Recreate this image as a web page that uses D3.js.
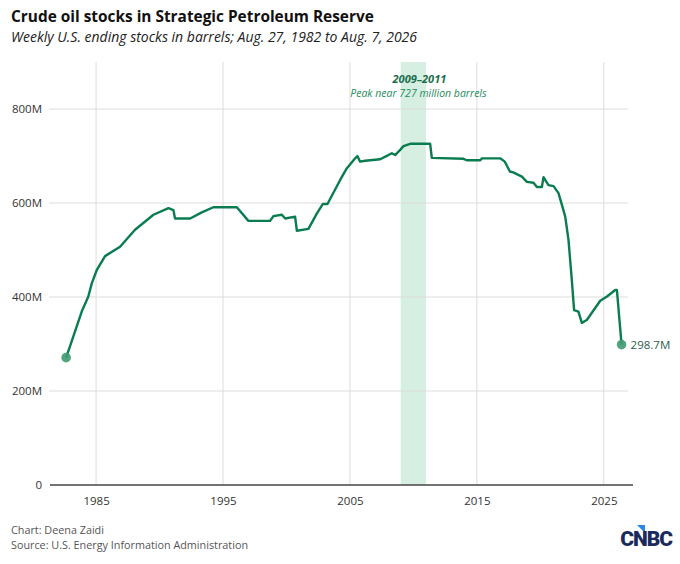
<!DOCTYPE html>
<html>
<head>
<meta charset="utf-8">
<script src="https://cdn.jsdelivr.net/npm/d3@7"></script>
<style>
  html, body { margin: 0; padding: 0; background: #fff; }
  svg { display: block; font-family: "Open Sans", sans-serif; }
</style>
</head>
<body>
<div id="chart"></div>
<script>
// ─── data: SPR ending stocks, million barrels, by decimal year ───────────────
const years = [1982.64, 1983.21, 1983.87, 1984.39, 1984.66, 1985.05, 1985.71, 1986.89,
  1988.07, 1989.52, 1990.70, 1991.09, 1991.22, 1992.41, 1993.33, 1994.24, 1996.09,
  1997.00, 1998.71, 1998.97, 1999.63, 1999.90, 2000.68, 2000.82, 2001.73, 2002.40,
  2002.87, 2003.23, 2004.23, 2004.76, 2005.41, 2005.59, 2005.80, 2006.20, 2007.38,
  2008.03, 2008.30, 2008.56, 2008.96, 2009.22, 2009.74, 2011.32, 2011.45, 2013.94,
  2014.20, 2015.27, 2015.40, 2016.83, 2017.20, 2017.60, 2017.86, 2018.55, 2018.94,
  2019.46, 2019.73, 2020.12, 2020.25, 2020.64, 2021.04, 2021.43, 2021.70, 2021.96,
  2022.22, 2022.48, 2022.66, 2023.00, 2023.27, 2023.66, 2024.72, 2025.25, 2025.90,
  2026.03, 2026.40];
const stocks = [271, 316, 369, 401, 429, 457, 487, 507,
  543, 575, 589, 585, 567, 567, 580, 591, 591,
  562, 562, 572, 575, 567, 571, 541, 545, 578,
  598, 598, 649, 674, 695, 700, 688, 690, 693,
  702, 706, 702, 713, 721, 726, 726, 696, 694,
  691, 691, 695, 695, 688, 667, 665, 656, 645,
  643, 634, 634, 655, 638, 636, 621, 596, 571,
  521, 436, 372, 369, 345, 351, 392, 401, 415,
  415, 298.7];
const xTicks = [1985, 1995, 2005, 2015, 2025];
const yTicks = [0, 200, 400, 600, 800];
const band = [2009, 2011];

const COLOR_LINE = "#0a7d50";
const COLOR_BAND = "#d6efe2";
const COLOR_GRID = "#dcdcdc";
const COLOR_TEXT = "#333";

const W = 680, H = 564;
const m = { left: 50, right: 633, top: 62, bottom: 485 };

const svg = d3.select("#chart").append("svg")
    .attr("width", W).attr("height", H);

const x = d3.scaleLinear().domain([1981.37, 2027.3]).range([m.left, m.right]);
const y = d3.scaleLinear().domain([0, 900]).range([m.bottom, m.top]);

// title block
svg.append("text").attr("x", 11).attr("y", 22)
    .attr("font-size", 15.4).attr("font-weight", 700).attr("fill", "#111")
    .text("Crude oil stocks in Strategic Petroleum Reserve");
svg.append("text").attr("x", 11).attr("y", 42)
    .attr("font-size", 14).attr("font-style", "italic").attr("fill", "#222")
    .text("Weekly U.S. ending stocks in barrels; Aug. 27, 1982 to Aug. 7, 2026");

// shaded period
svg.append("rect")
    .attr("x", x(band[0])).attr("width", x(band[1]) - x(band[0]))
    .attr("y", m.top).attr("height", m.bottom - m.top)
    .attr("fill", COLOR_BAND);

// grid
svg.append("g").selectAll("line").data(xTicks).join("line")
    .attr("x1", d => x(d)).attr("x2", d => x(d))
    .attr("y1", m.top).attr("y2", m.bottom)
    .attr("stroke", COLOR_GRID);
svg.append("g").selectAll("line").data(yTicks.filter(d => d > 0)).join("line")
    .attr("x1", m.left - 1).attr("x2", 628)
    .attr("y1", d => y(d)).attr("y2", d => y(d))
    .attr("stroke", COLOR_GRID);

// axes
const yAxis = svg.append("g")
    .attr("transform", `translate(${m.left - 5},0)`)
    .call(d3.axisLeft(y).tickValues(yTicks).tickSize(0)
        .tickFormat(d => d === 0 ? "0" : d + "M"));
yAxis.select(".domain").remove();
yAxis.selectAll("text").attr("font-size", 11.5).attr("fill", COLOR_TEXT)
    .attr("font-family", "'Open Sans', sans-serif");

const xAxis = svg.append("g")
    .attr("transform", `translate(0,${m.bottom})`)
    .call(d3.axisBottom(x).tickValues(xTicks).tickSize(0).tickFormat(d3.format("d")));
xAxis.select(".domain").remove();
xAxis.selectAll("text").attr("font-size", 11.5).attr("fill", COLOR_TEXT)
    .attr("dy", "1.5em").attr("font-family", "'Open Sans', sans-serif");

svg.append("line")
    .attr("x1", m.left).attr("x2", m.right)
    .attr("y1", y(0)).attr("y2", y(0))
    .attr("stroke", "#444").attr("stroke-width", 1.3);

// line
const pts = years.map((yr, i) => [yr, stocks[i]]);
const line = d3.line().x(d => x(d[0])).y(d => y(d[1]));
svg.append("path").datum(pts)
    .attr("d", line)
    .attr("fill", "none")
    .attr("stroke", COLOR_LINE)
    .attr("stroke-width", 2.4)
    .attr("stroke-linejoin", "round");

// end dots
const ends = [pts[0], pts[pts.length - 1]];
svg.append("g").selectAll("circle").data(ends).join("circle")
    .attr("cx", d => x(d[0])).attr("cy", d => y(d[1]))
    .attr("r", 4.8)
    .attr("fill", "#3f9a70").attr("fill-opacity", 0.9);

svg.append("text")
    .attr("x", x(pts[pts.length - 1][0]) + 9).attr("y", y(298.7) + 4)
    .attr("font-size", 11.5).attr("fill", "#2d5e4c")
    .text("298.7M");

// annotation
const bandMid = (x(band[0]) + x(band[1])) / 2;
svg.append("text").attr("x", bandMid + 6).attr("y", 83)
    .attr("text-anchor", "middle").attr("font-size", 11).attr("font-weight", 700)
    .attr("font-style", "italic").attr("fill", "#1b6e4b")
    .text("2009–2011");
svg.append("text").attr("x", bandMid + 5).attr("y", 97)
    .attr("text-anchor", "middle").attr("font-size", 10.5)
    .attr("font-style", "italic").attr("fill", "#1f8a5e")
    .text("Peak near 727 million barrels");

// footer
svg.append("text").attr("x", 11).attr("y", 534)
    .attr("font-size", 10.8).attr("fill", "#555")
    .text("Chart: Deena Zaidi");
svg.append("text").attr("x", 11).attr("y", 549)
    .attr("font-size", 10.8).attr("fill", "#555")
    .text("Source: U.S. Energy Information Administration");

// logo
svg.append("path")
    .attr("d", "M637,525 L645,525 L645,533 Z")
    .attr("fill", "#2b86e6");
svg.append("text").attr("x", 672).attr("y", 546)
    .attr("text-anchor", "end")
    .attr("font-size", 21).attr("font-weight", 900)
    .attr("font-family", "Roboto, sans-serif")
    .attr("letter-spacing", -1)
    .attr("fill", "#1b2a5c")
    .text("CNBC");
</script>
</body>
</html>
